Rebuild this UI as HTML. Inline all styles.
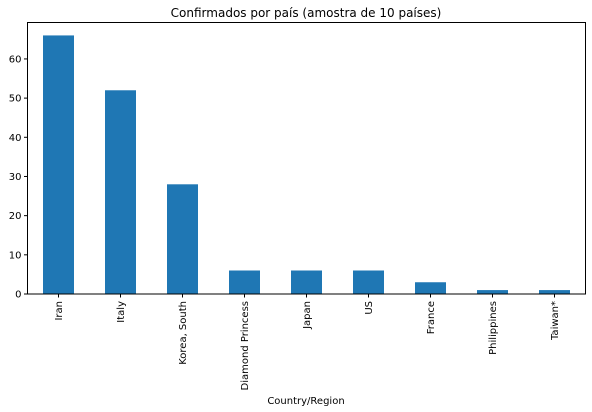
<!DOCTYPE html>
<html><head><meta charset="utf-8"><style>
body{margin:0;background:#fff;}
svg{display:block;font-family:"DejaVu Sans","Liberation Sans",sans-serif;}
</style></head><body>
<svg id="chart" width="592" height="412">
<text x="306" y="17" font-size="12" text-anchor="middle" fill="#000">Confirmados por país (amostra de 10 países)</text>
<text x="306" y="404" font-size="10" text-anchor="middle" fill="#000">Country/Region</text>
<g id="bars"></g><g id="ticks"></g>
<rect x="27.5" y="22.5" width="558" height="271.5" fill="none" stroke="#000" stroke-width="1"/>
</svg>
<script>
const categories=["Iran","Italy","Korea, South","Diamond Princess","Japan","US","France","Philippines","Taiwan*"];
const values=[66,52,28,6,6,6,3,1,1];
const yTicks=[0,10,20,30,40,50,60];
const L=27.5,T=22.5,W=558,B=294,yMax=69.3;
const ns="http://www.w3.org/2000/svg";
const y=v=>B-(v/yMax)*(B-T);
const band=W/categories.length;
const x=i=>L+band*(i+0.5);
const bars=document.getElementById('bars'),ticks=document.getElementById('ticks');
categories.forEach((c,i)=>{
 const r=document.createElementNS(ns,'rect');
 r.setAttribute('x',x(i)-band*0.25);r.setAttribute('width',band*0.5);
 r.setAttribute('y',y(values[i]));r.setAttribute('height',B-y(values[i]));
 r.setAttribute('fill','#1f77b4');
 
 
 bars.appendChild(r);
 const t=document.createElementNS(ns,'line');
 t.setAttribute('x1',x(i));t.setAttribute('x2',x(i));t.setAttribute('y1',B);t.setAttribute('y2',B+3.5);t.setAttribute('stroke','#000');
 ticks.appendChild(t);
 const tx=document.createElementNS(ns,'text');
 tx.setAttribute('transform','translate('+(x(i)+3.5)+','+(B+7)+') rotate(-90)');
 tx.setAttribute('text-anchor','end');tx.setAttribute('font-size','10');
 tx.textContent=c;
 
 
 ticks.appendChild(tx);
});
yTicks.forEach(v=>{
 const t=document.createElementNS(ns,'line');
 t.setAttribute('x1',L-3.5);t.setAttribute('x2',L);t.setAttribute('y1',y(v));t.setAttribute('y2',y(v));t.setAttribute('stroke','#000');
 ticks.appendChild(t);
 const tx=document.createElementNS(ns,'text');
 tx.setAttribute('x',L-6);tx.setAttribute('y',y(v)+3.5);tx.setAttribute('text-anchor','end');tx.setAttribute('font-size','10');
 tx.textContent=v;
 
 
 ticks.appendChild(tx);
});
</script>
</body></html>
